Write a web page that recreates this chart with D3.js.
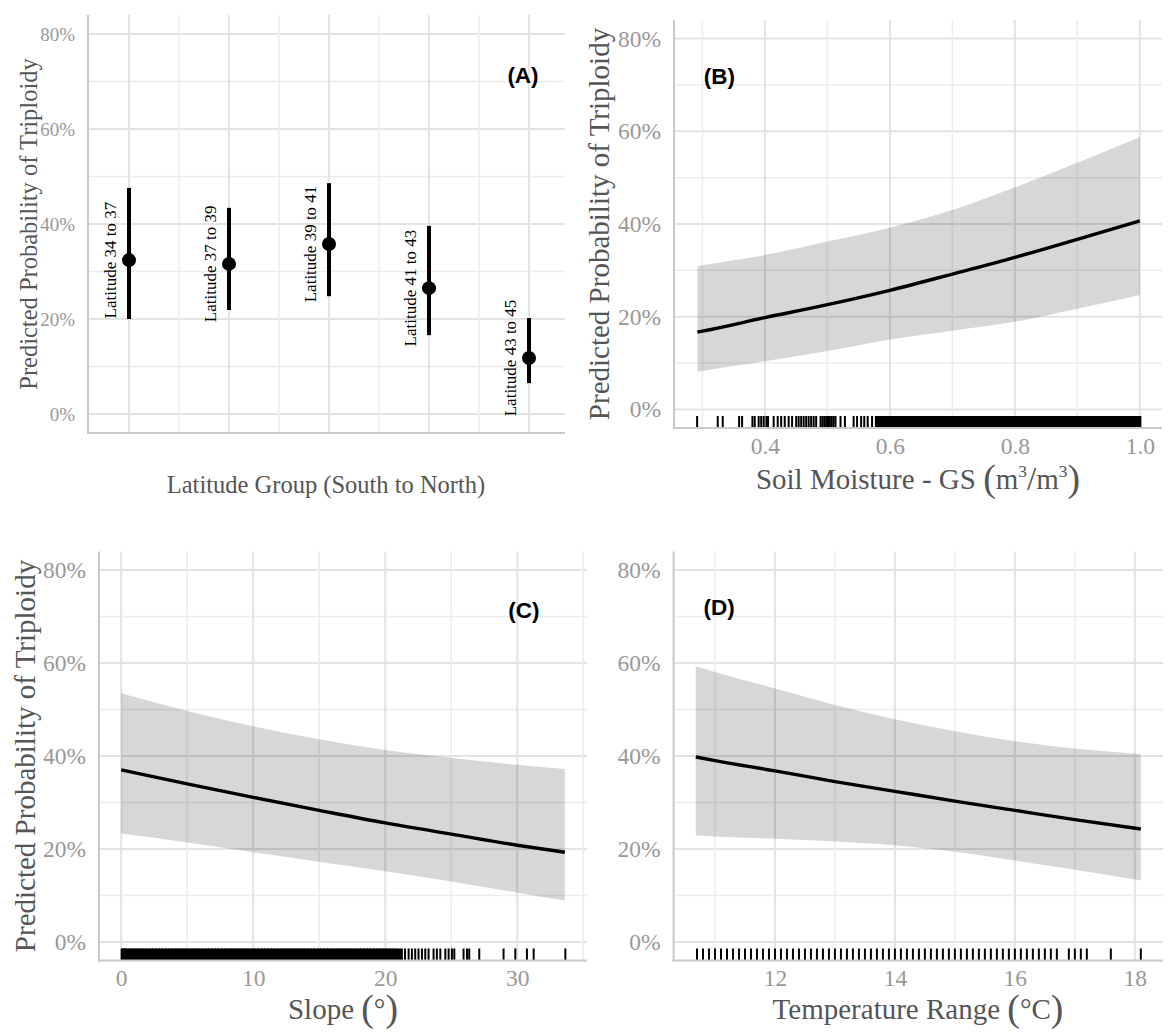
<!DOCTYPE html>
<html>
<head>
<script src="https://d3js.org/d3.v7.min.js"></script>
<style>
  body { margin: 0; background: #fff; }
  text { font-family: "Liberation Serif", "Times New Roman", serif; }
</style>
</head>
<body>
<div id="viz"></div>
<script type="text/javascript">
// ---------- data ----------
var pctTicks = [0, 0.2, 0.4, 0.6, 0.8];
var pctMinor = [0.1, 0.3, 0.5, 0.7];

// (A) latitude groups
var latGroups = ["Latitude 34 to 37", "Latitude 37 to 39", "Latitude 39 to 41", "Latitude 41 to 43", "Latitude 43 to 45"];
var latFit  = [0.324, 0.316, 0.358, 0.265, 0.118];
var latLow  = [0.200, 0.219, 0.248, 0.166, 0.065];
var latHigh = [0.476, 0.434, 0.486, 0.396, 0.202];

// (B) soil moisture
var soilX    = [0.292, 0.3, 0.4, 0.5, 0.6, 0.7, 0.8, 0.9, 1.0];
var soilFit  = [0.167, 0.169, 0.198, 0.226, 0.257, 0.292, 0.328, 0.367, 0.407];
var soilLow  = [0.081, 0.083, 0.104, 0.126, 0.151, 0.170, 0.189, 0.217, 0.247];
var soilHigh = [0.309, 0.311, 0.333, 0.362, 0.392, 0.430, 0.479, 0.532, 0.587];
var soilRugSparse = [0.2915, 0.3245, 0.3325, 0.3587, 0.3635, 0.380, 0.3837, 0.390, 0.394, 0.398, 0.4024, 0.405, 0.414, 0.4205, 0.426, 0.4317, 0.438, 0.4435, 0.450, 0.454, 0.458, 0.462, 0.466, 0.470, 0.474, 0.478, 0.482, 0.489, 0.492, 0.495, 0.498, 0.501, 0.504, 0.507, 0.510, 0.513, 0.521, 0.528, 0.542, 0.5475, 0.554, 0.559, 0.5645, 0.5715];
var soilRugDense = [0.580, 0.585, 0.590, 0.595, 0.600, 0.605, 0.610, 0.615, 0.620, 0.625, 0.630, 0.635, 0.640, 0.645, 0.650, 0.655, 0.660, 0.665, 0.670, 0.675, 0.680, 0.685, 0.690, 0.695, 0.700, 0.705, 0.710, 0.715, 0.720, 0.725, 0.730, 0.735, 0.740, 0.745, 0.750, 0.755, 0.760, 0.765, 0.770, 0.775, 0.780, 0.785, 0.790, 0.795, 0.800, 0.805, 0.810, 0.815, 0.820, 0.825, 0.830, 0.835, 0.840, 0.845, 0.850, 0.855, 0.860, 0.865, 0.870, 0.875, 0.880, 0.885, 0.890, 0.895, 0.900, 0.905, 0.910, 0.915, 0.920, 0.925, 0.930, 0.935, 0.940, 0.945, 0.950, 0.955, 0.960, 0.965, 0.970, 0.975, 0.980, 0.985, 0.990, 0.995, 0.9985];

// (C) slope
var slopeX    = [0, 5, 10, 15, 20, 25, 30, 33.6];
var slopeFit  = [0.370, 0.340, 0.311, 0.283, 0.256, 0.232, 0.208, 0.193];
var slopeLow  = [0.233, 0.214, 0.193, 0.172, 0.152, 0.130, 0.106, 0.089];
var slopeHigh = [0.535, 0.497, 0.464, 0.436, 0.413, 0.396, 0.381, 0.372];
var slopeRugDense = [0.15, 0.25, 0.5, 0.75, 1, 1.25, 1.5, 1.75, 2, 2.25, 2.5, 2.75, 3, 3.25, 3.5, 3.75, 4, 4.25, 4.5, 4.75, 5, 5.25, 5.5, 5.75, 6, 6.25, 6.5, 6.75, 7, 7.25, 7.5, 7.75, 8, 8.25, 8.5, 8.75, 9, 9.25, 9.5, 9.75, 10, 10.25, 10.5, 10.75, 11, 11.25, 11.5, 11.75, 12, 12.25, 12.5, 12.75, 13, 13.25, 13.5, 13.75, 14, 14.25, 14.5, 14.75, 15, 15.25, 15.5, 15.75, 16, 16.25, 16.5, 16.75, 17, 17.25, 17.5, 17.75, 18, 18.25, 18.5, 18.75, 19, 19.25, 19.5, 19.75, 20, 20.25, 20.5, 20.75, 21];
var slopeRugSparse = [21.26, 21.5, 21.77, 22.02, 22.27, 22.52, 22.78, 23.03, 23.28, 23.66, 23.91, 24.17, 24.55, 24.8, 25.05, 25.23, 25.93, 26.19, 26.36, 27.12, 28.96, 29.85, 30.73, 31.24, 33.64];

// (D) temperature range
var tempX    = [10.68, 11, 12, 13, 14, 15, 16, 17, 18.1];
var tempFit  = [0.398, 0.390, 0.368, 0.345, 0.324, 0.303, 0.283, 0.263, 0.243];
var tempLow  = [0.229, 0.227, 0.222, 0.216, 0.208, 0.194, 0.175, 0.155, 0.132];
var tempHigh = [0.593, 0.581, 0.545, 0.510, 0.479, 0.453, 0.432, 0.416, 0.404];
var tempRug = [10.7, 10.8, 10.9, 11.0, 11.1, 11.2, 11.3, 11.4, 11.5, 11.6, 11.7, 11.8, 11.9, 12.0, 12.1, 12.2, 12.3, 12.4, 12.5, 12.6, 12.7, 12.8, 12.9, 13.0, 13.1, 13.2, 13.3, 13.4, 13.5, 13.6, 13.7, 13.8, 13.9, 14.0, 14.1, 14.2, 14.3, 14.4, 14.5, 14.6, 14.7, 14.8, 14.9, 15.0, 15.1, 15.2, 15.3, 15.4, 15.5, 15.6, 15.7, 15.8, 15.9, 16.0, 16.1, 16.2, 16.3, 16.4, 16.5, 16.6, 16.7, 16.9, 17.0, 17.1, 17.2, 17.6, 18.1];

// ---------- drawing ----------
var width = 1168, height = 1036;
var svg = d3.select("#viz").append("svg")
    .attr("width", width).attr("height", height)
    .style("background", "#fff");

var gridMajor = "#e3e3e3", gridMinor = "#ececec", axisCol = "#c9c9c9";
var tickCol = "#999999", titleCol = "#555555";

function hLines(g, vals, y, box, col, w) {
  g.selectAll(null).data(vals).enter().append("line")
    .attr("x1", box.l).attr("x2", box.r)
    .attr("y1", function(d){ return y(d); }).attr("y2", function(d){ return y(d); })
    .attr("stroke", col).attr("stroke-width", w);
}
function vLines(g, vals, x, box, col, w) {
  g.selectAll(null).data(vals).enter().append("line")
    .attr("y1", box.t).attr("y2", box.b)
    .attr("x1", function(d){ return x(d); }).attr("x2", function(d){ return x(d); })
    .attr("stroke", col).attr("stroke-width", w);
}
function axisLines(g, box) {
  g.append("line").attr("x1", box.l).attr("x2", box.l).attr("y1", box.t).attr("y2", box.b + 1)
    .attr("stroke", axisCol).attr("stroke-width", 2);
  g.append("line").attr("x1", box.l - 1).attr("x2", box.r).attr("y1", box.b).attr("y2", box.b)
    .attr("stroke", axisCol).attr("stroke-width", 2);
}
function yAxis(g, y, box, size) {
  var ax = g.append("g").attr("transform", "translate(" + box.l + ",0)")
    .call(d3.axisLeft(y).tickValues(pctTicks).tickFormat(d3.format(".0%")).tickSize(0).tickPadding(13));
  ax.select(".domain").remove();
  ax.selectAll("text").attr("fill", tickCol).style("font-size", size + "px")
    .style("font-family", "'Liberation Serif', 'Times New Roman', serif");
}
function xAxis(g, x, vals, fmt, box, size) {
  var ax = g.append("g").attr("transform", "translate(0," + box.b + ")")
    .call(d3.axisBottom(x).tickValues(vals).tickFormat(fmt).tickSize(0).tickPadding(9));
  ax.select(".domain").remove();
  ax.selectAll("text").attr("fill", tickCol).style("font-size", size + "px")
    .style("font-family", "'Liberation Serif', 'Times New Roman', serif");
}
function yTitle(g, cx, cy, size) {
  g.append("text").attr("transform", "translate(" + cx + "," + cy + ") rotate(-90)")
    .attr("text-anchor", "middle").attr("dy", "0.35em")
    .attr("fill", titleCol).style("font-size", size + "px")
    .text("Predicted Probability of Triploidy");
}
// parts: [text, relative size, baseline offset in em]
function mathTitle(g, cx, cy, size, parts) {
  var t = g.append("text").attr("x", cx).attr("y", cy).attr("text-anchor", "middle")
    .attr("dy", "0.35em").attr("fill", titleCol).style("font-size", size + "px");
  var prev = 0;
  parts.forEach(function(p) {
    var off = p[2] * size;
    t.append("tspan").attr("dy", off - prev).style("font-size", (p[1] * size) + "px").text(p[0]);
    prev = off;
  });
}
function panelTag(g, x, y, label) {
  g.append("text").attr("x", x).attr("y", y).attr("text-anchor", "middle").attr("dy", "0.36em")
    .style("font-family", "'Liberation Sans', Arial, sans-serif").style("font-weight", "bold")
    .style("font-size", "22.5px").attr("fill", "#000").text(label);
}
function rug(g, vals, x, box, w) {
  g.selectAll(null).data(vals).enter().append("line")
    .attr("x1", function(d){ return x(d); }).attr("x2", function(d){ return x(d); })
    .attr("y1", box.b - 12).attr("y2", box.b)
    .attr("stroke", "#000").attr("stroke-width", w);
}
function fitPanel(g, x, y, xs, fit, lo, hi) {
  var pts = xs.map(function(d, i){ return {x: d, f: fit[i], lo: lo[i], hi: hi[i]}; });
  g.append("path").datum(pts)
    .attr("d", d3.area().curve(d3.curveMonotoneX)
      .x(function(d){ return x(d.x); })
      .y0(function(d){ return y(d.lo); })
      .y1(function(d){ return y(d.hi); }))
    .attr("fill", "#000").attr("fill-opacity", 0.155);
  g.append("path").datum(pts)
    .attr("d", d3.line().curve(d3.curveMonotoneX)
      .x(function(d){ return x(d.x); })
      .y(function(d){ return y(d.f); }))
    .attr("fill", "none").attr("stroke", "#000").attr("stroke-width", 3.4);
}

// ----- panel A -----
(function() {
  var box = {l: 88, r: 565, t: 15, b: 433};
  var g = svg.append("g");
  var x = d3.scalePoint().domain(latGroups).range([129, 529]);
  var y = d3.scaleLinear().domain([-0.04, 0.84]).range([box.b, box.t]);
  var step = x.step();
  var mids = latGroups.slice(0, -1).map(function(d){ return x(d) + step / 2; });

  hLines(g, pctMinor, y, box, gridMinor, 1.5);
  hLines(g, pctTicks, y, box, gridMajor, 2);
  vLines(g, mids, function(d){ return d; }, box, gridMinor, 1.5);
  vLines(g, latGroups, x, box, gridMajor, 2);

  var pts = latGroups.map(function(d, i){ return {g: d, f: latFit[i], lo: latLow[i], hi: latHigh[i]}; });
  g.selectAll(".bar").data(pts).enter().append("line")
    .attr("x1", function(d){ return x(d.g); }).attr("x2", function(d){ return x(d.g); })
    .attr("y1", function(d){ return y(d.lo); }).attr("y2", function(d){ return y(d.hi); })
    .attr("stroke", "#000").attr("stroke-width", 4);
  g.selectAll(".pt").data(pts).enter().append("circle")
    .attr("cx", function(d){ return x(d.g); }).attr("cy", function(d){ return y(d.f); })
    .attr("r", 7).attr("fill", "#000");
  g.selectAll(".lab").data(pts).enter().append("text")
    .attr("transform", function(d){ return "translate(" + (x(d.g) - 13) + "," + y(d.f) + ") rotate(-90)"; })
    .attr("text-anchor", "middle").attr("fill", "#000").style("font-size", "17px")
    .text(function(d){ return d.g; });

  axisLines(g, box);
  yAxis(g, y, box, 19);
  yTitle(g, 28, 224, 24.5);
  g.append("text").attr("x", 326).attr("y", 484).attr("dy", "0.35em").attr("text-anchor", "middle")
    .attr("fill", titleCol).style("font-size", "24.5px").text("Latitude Group (South to North)");
  panelTag(g, 523, 75, "(A)");
})();

// ----- panel B -----
(function() {
  var box = {l: 674, r: 1162, t: 20, b: 428};
  var g = svg.append("g");
  var x = d3.scaleLinear().domain([0.2545, 1.0355]).range([box.l, box.r]);
  var y = d3.scaleLinear().domain([-0.04, 0.84]).range([box.b, box.t]);
  hLines(g, pctMinor, y, box, gridMinor, 1.5);
  hLines(g, pctTicks, y, box, gridMajor, 2);
  vLines(g, [0.3, 0.5, 0.7, 0.9], x, box, gridMinor, 1.5);
  vLines(g, [0.4, 0.6, 0.8, 1.0], x, box, gridMajor, 2);
  fitPanel(g, x, y, soilX, soilFit, soilLow, soilHigh);
  rug(g, soilRugSparse, x, box, 2);
  rug(g, soilRugDense, x, box, 5);
  axisLines(g, box);
  yAxis(g, y, box, 23.5);
  xAxis(g, x, [0.4, 0.6, 0.8, 1.0], d3.format(".1f"), box, 23.5);
  yTitle(g, 599, 224, 29);
  mathTitle(g, 918, 489, 29, [["Soil Moisture - GS ", 1, 0], ["(", 1.3, 0.08], ["m", 1, 0], ["3", 0.6, -0.42],
    ["/", 1.15, 0.04], ["m", 1, 0], ["3", 0.6, -0.42], [")", 1.3, 0.08]]);
  panelTag(g, x(0.327), y(0.72), "(B)");
})();

// ----- panel C -----
(function() {
  var box = {l: 99, r: 587, t: 551.5, b: 960.5};
  var g = svg.append("g");
  var x = d3.scaleLinear().domain([-1.68, 35.28]).range([box.l, box.r]);
  var y = d3.scaleLinear().domain([-0.04, 0.84]).range([box.b, box.t]);
  hLines(g, pctMinor, y, box, gridMinor, 1.5);
  hLines(g, pctTicks, y, box, gridMajor, 2);
  vLines(g, [5, 15, 25, 35], x, box, gridMinor, 1.5);
  vLines(g, [0, 10, 20, 30], x, box, gridMajor, 2);
  fitPanel(g, x, y, slopeX, slopeFit, slopeLow, slopeHigh);
  rug(g, slopeRugDense, x, box, 5);
  rug(g, slopeRugSparse, x, box, 2);
  axisLines(g, box);
  yAxis(g, y, box, 23.5);
  xAxis(g, x, [0, 10, 20, 30], d3.format("d"), box, 23.5);
  yTitle(g, 25, 756, 29);
  mathTitle(g, 343, 1019, 29, [["Slope ", 1, 0], ["(", 1.3, 0.08], ["°", 1, 0], [")", 1.3, 0.08]]);
  panelTag(g, x(30.5), y(0.715), "(C)");
})();

// ----- panel D -----
(function() {
  var box = {l: 673.6, r: 1163, t: 551.5, b: 960.5};
  var g = svg.append("g");
  var x = d3.scaleLinear().domain([10.31, 18.47]).range([box.l, box.r]);
  var y = d3.scaleLinear().domain([-0.04, 0.84]).range([box.b, box.t]);
  hLines(g, pctMinor, y, box, gridMinor, 1.5);
  hLines(g, pctTicks, y, box, gridMajor, 2);
  vLines(g, [11, 13, 15, 17], x, box, gridMinor, 1.5);
  vLines(g, [12, 14, 16, 18], x, box, gridMajor, 2);
  fitPanel(g, x, y, tempX, tempFit, tempLow, tempHigh);
  rug(g, tempRug, x, box, 2);
  axisLines(g, box);
  yAxis(g, y, box, 23.5);
  xAxis(g, x, [12, 14, 16, 18], d3.format("d"), box, 23.5);
  mathTitle(g, 918, 1019, 29, [["Temperature Range ", 1, 0], ["(", 1.3, 0.08], ["°C", 1, 0], [")", 1.3, 0.08]]);
  panelTag(g, x(11.07), y(0.72), "(D)");
})();
</script>
</body>
</html>
